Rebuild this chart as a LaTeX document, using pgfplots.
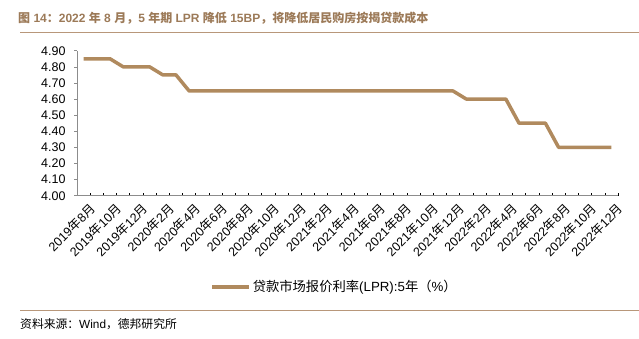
\documentclass[border=0pt]{standalone}
\usepackage{fontspec}
\setmainfont{Liberation Sans}
\newfontfamily\cjk{Noto Sans CJK SC}
\usepackage{pgfplots}
\pgfplotsset{compat=1.18}
\definecolor{lpr}{HTML}{B08A5E}
\definecolor{titlec}{HTML}{9C7A58}
\definecolor{rulec}{HTML}{B8977A}
\definecolor{axisc}{HTML}{8C8C8C}
\newcommand\zh[1]{{\cjk #1}}
\newcommand\ym[2]{#1\zh{年}#2\zh{月}}
\begin{document}
\begin{tikzpicture}
\path[use as bounding box] (0pt,0pt) rectangle (639pt,338pt);
\node[anchor=base west, inner sep=0pt, font=\bfseries\fontsize{12}{14}\selectfont, text=titlec] at (18pt,315pt)
 {\zh{图} 14\zh{：}2022 \zh{年} 8 \zh{月，}5 \zh{年期} LPR \zh{降低} 15BP\zh{，将降低居民购房按揭贷款成本}};
\draw[rulec, line width=0.9pt] (20pt,306pt) -- (639pt,306pt);
\draw[rulec, line width=0.9pt] (20pt,28pt) -- (639pt,28pt);
\node[anchor=base west, inner sep=0pt, font=\fontsize{11.8}{13}\selectfont] at (20pt,10pt)
 {\zh{资料来源：}Wind\zh{，德邦研究所}};
\begin{axis}[
  at={(77pt,142.3pt)}, anchor=south west,
  scale only axis, width=541pt, height=145pt,
  xmin=-0.5, xmax=40.5, ymin=4.0, ymax=4.9,
  axis lines=left, axis line style={-, axisc, line width=0.8pt},
  tick align=outside,
  ytick={4.0,4.1,...,4.9},
  /pgf/number format/fixed, /pgf/number format/fixed zerofill, /pgf/number format/precision=2,
  /pgf/number format/assume math mode=true,
  yticklabel style={font=\fontsize{12.5}{14}\selectfont, xshift=-5pt},
  ytick style={axisc, line width=0.6pt},
  major tick length=3pt,
  xtick={0,2,...,40},
  major x tick style={draw=none},
  minor xtick={0.5,1.5,...,40.5},
  minor x tick style={black, line width=0.6pt, yshift=3pt},
  minor tick length=3pt,
  xticklabels={\ym{2019}{8},\ym{2019}{10},\ym{2019}{12},\ym{2020}{2},\ym{2020}{4},\ym{2020}{6},\ym{2020}{8},\ym{2020}{10},\ym{2020}{12},\ym{2021}{2},\ym{2021}{4},\ym{2021}{6},\ym{2021}{8},\ym{2021}{10},\ym{2021}{12},\ym{2022}{2},\ym{2022}{4},\ym{2022}{6},\ym{2022}{8},\ym{2022}{10},\ym{2022}{12}},
  xticklabel style={rotate=45, anchor=north east, inner sep=1pt, yshift=-5pt, xshift=2pt, font=\fontsize{12.5}{14}\selectfont},
  legend style={at={(0.476,-0.628)}, anchor=center, draw=none, fill=none, font=\fontsize{13.3}{15}\selectfont},
  legend image code/.code={\draw[#1, line width=3.5pt] (0pt,0pt) -- (37pt,0pt);},
]
\addplot[lpr, line width=3.5pt, line join=round] coordinates {
(0,4.85)(1,4.85)(2,4.85)(3,4.80)(4,4.80)(5,4.80)(6,4.75)(7,4.75)(8,4.65)(9,4.65)
(10,4.65)(11,4.65)(12,4.65)(13,4.65)(14,4.65)(15,4.65)(16,4.65)(17,4.65)(18,4.65)(19,4.65)
(20,4.65)(21,4.65)(22,4.65)(23,4.65)(24,4.65)(25,4.65)(26,4.65)(27,4.65)(28,4.65)(29,4.60)
(30,4.60)(31,4.60)(32,4.60)(33,4.45)(34,4.45)(35,4.45)(36,4.30)(37,4.30)(38,4.30)(39,4.30)(40,4.30)};
\addlegendentry{\zh{贷款市场报价利率}(LPR):5\zh{年（}\%\zh{）}}
\end{axis}
\end{tikzpicture}
\end{document}
